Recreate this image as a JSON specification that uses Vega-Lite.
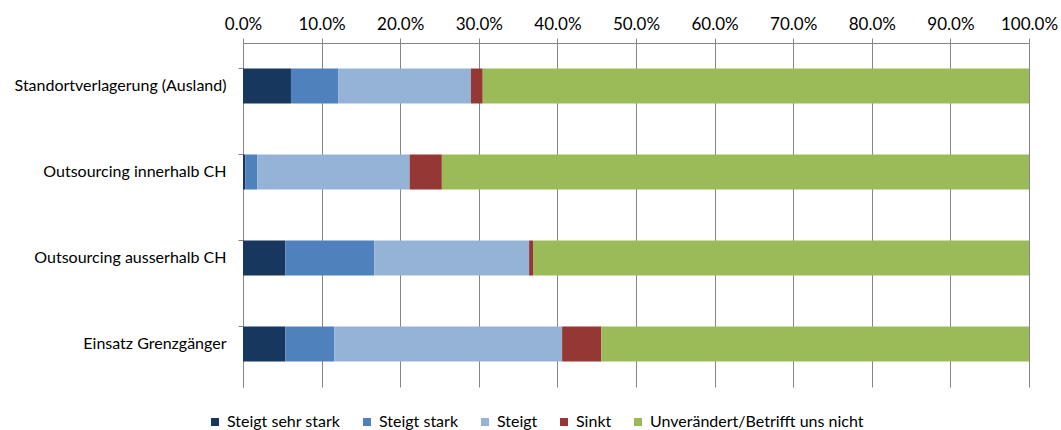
{
  "$schema": "https://vega.github.io/schema/vega-lite/v6.json",
  "autosize": {"type": "none"},
  "width": 786,
  "height": 344,
  "padding": {"left": 243, "top": 43, "right": 32, "bottom": 43},
  "background": "white",
  "config": {
    "view": {"stroke": null},
    "font": "Lato",
    "axis": {"labelFont": "Lato", "labelColor": "#000000", "labelFontSize": 16, "labelLimit": 0},
    "legend": {"labelFont": "Lato", "labelColor": "#000000", "labelFontSize": 16, "labelLimit": 0}
  },
  "data": {
    "values": [
      {"Kategorie": "Standortverlagerung (Ausland)", "Antwort": "Steigt sehr stark", "o": 1, "Anteil": 0.061},
      {"Kategorie": "Standortverlagerung (Ausland)", "Antwort": "Steigt stark", "o": 2, "Anteil": 0.060},
      {"Kategorie": "Standortverlagerung (Ausland)", "Antwort": "Steigt", "o": 3, "Anteil": 0.169},
      {"Kategorie": "Standortverlagerung (Ausland)", "Antwort": "Sinkt", "o": 4, "Anteil": 0.015},
      {"Kategorie": "Standortverlagerung (Ausland)", "Antwort": "Unverändert/Betrifft uns nicht", "o": 5, "Anteil": 0.695},
      {"Kategorie": "Outsourcing innerhalb CH", "Antwort": "Steigt sehr stark", "o": 1, "Anteil": 0.003},
      {"Kategorie": "Outsourcing innerhalb CH", "Antwort": "Steigt stark", "o": 2, "Anteil": 0.015},
      {"Kategorie": "Outsourcing innerhalb CH", "Antwort": "Steigt", "o": 3, "Anteil": 0.194},
      {"Kategorie": "Outsourcing innerhalb CH", "Antwort": "Sinkt", "o": 4, "Anteil": 0.041},
      {"Kategorie": "Outsourcing innerhalb CH", "Antwort": "Unverändert/Betrifft uns nicht", "o": 5, "Anteil": 0.747},
      {"Kategorie": "Outsourcing ausserhalb CH", "Antwort": "Steigt sehr stark", "o": 1, "Anteil": 0.054},
      {"Kategorie": "Outsourcing ausserhalb CH", "Antwort": "Steigt stark", "o": 2, "Anteil": 0.113},
      {"Kategorie": "Outsourcing ausserhalb CH", "Antwort": "Steigt", "o": 3, "Anteil": 0.197},
      {"Kategorie": "Outsourcing ausserhalb CH", "Antwort": "Sinkt", "o": 4, "Anteil": 0.005},
      {"Kategorie": "Outsourcing ausserhalb CH", "Antwort": "Unverändert/Betrifft uns nicht", "o": 5, "Anteil": 0.631},
      {"Kategorie": "Einsatz Grenzgänger", "Antwort": "Steigt sehr stark", "o": 1, "Anteil": 0.054},
      {"Kategorie": "Einsatz Grenzgänger", "Antwort": "Steigt stark", "o": 2, "Anteil": 0.062},
      {"Kategorie": "Einsatz Grenzgänger", "Antwort": "Steigt", "o": 3, "Anteil": 0.290},
      {"Kategorie": "Einsatz Grenzgänger", "Antwort": "Sinkt", "o": 4, "Anteil": 0.050},
      {"Kategorie": "Einsatz Grenzgänger", "Antwort": "Unverändert/Betrifft uns nicht", "o": 5, "Anteil": 0.544}
    ]
  },
  "layer": [
    {
      "mark": {"type": "bar"},
      "encoding": {
        "y": {
          "field": "Kategorie", "type": "nominal",
          "sort": ["Standortverlagerung (Ausland)", "Outsourcing innerhalb CH", "Outsourcing ausserhalb CH", "Einsatz Grenzgänger"],
          "scale": {"paddingInner": 0.593, "paddingOuter": 0.2965},
          "axis": {"title": null, "ticks": false, "domain": false, "labelPadding": 17, "orient": "left"}
        },
        "x": {
          "field": "Anteil", "type": "quantitative", "stack": "zero",
          "scale": {"domain": [0, 1], "nice": false},
          "axis": {
            "orient": "top", "title": null, "format": ".1%",
            "values": [0, 0.1, 0.2, 0.3, 0.4, 0.5, 0.6, 0.7, 0.8, 0.9, 1.0],
            "grid": true, "gridColor": "#868686", "gridWidth": 1,
            "domainColor": "#868686", "tickColor": "#868686", "tickSize": 5,
            "labelPadding": 5, "labelFontSize": 17, "labelOverlap": false, "labelFlush": false
          }
        },
        "color": {
          "field": "Antwort", "type": "nominal",
          "scale": {
            "domain": ["Steigt sehr stark", "Steigt stark", "Steigt", "Sinkt", "Unverändert/Betrifft uns nicht"],
            "range": ["#17375E", "#4F81BD", "#95B3D7", "#953735", "#9BBB59"]
          },
          "legend": {
            "title": null, "orient": "none", "direction": "horizontal",
            "legendX": -36, "legendY": 371,
            "symbolType": "square", "symbolSize": 64, "symbolStrokeWidth": 0,
            "symbolOpacity": 1, "columnPadding": 18, "labelOffset": 4
          }
        },
        "order": {"field": "o", "type": "quantitative"}
      }
    },
    {
      "mark": {"type": "bar", "opacity": 0},
      "encoding": {
        "y": {
          "field": "Kategorie", "type": "nominal",
          "sort": ["Standortverlagerung (Ausland)", "Outsourcing innerhalb CH", "Outsourcing ausserhalb CH", "Einsatz Grenzgänger"],
          "axis": {"title": null, "labels": false, "domain": true, "domainColor": "#868686", "ticks": true, "tickColor": "#868686", "tickSize": 5, "bandPosition": 0, "orient": "left"}
        },
        "x": {"field": "Anteil", "type": "quantitative", "stack": "zero"},
        "order": {"field": "o", "type": "quantitative"}
      }
    }
  ],
  "resolve": {"axis": {"y": "independent"}}
}
